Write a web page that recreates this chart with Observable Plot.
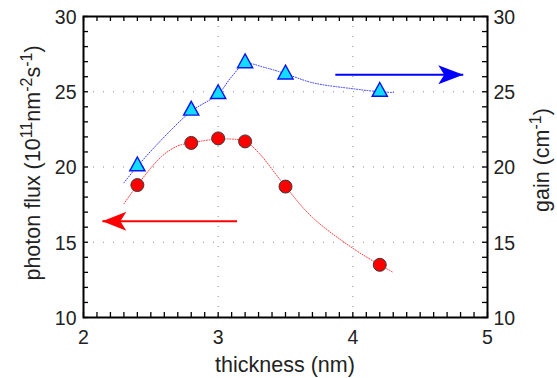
<!DOCTYPE html>
<html>
<head>
<meta charset="utf-8">
<script src="https://cdn.jsdelivr.net/npm/d3@7"></script>
<script src="https://cdn.jsdelivr.net/npm/@observablehq/plot@0.6"></script>
<style>
  html, body { margin: 0; padding: 0; background: #fff; }
  #chart svg { display: block; }
</style>
</head>
<body>
<div id="chart"></div>
<script>
// Measured samples: photon flux (left axis) and gain (right axis) vs. thickness
const thickness = [2.4, 2.8, 3.0, 3.2, 3.5, 4.2];
const photonFlux = [18.8, 21.6, 21.9, 21.7, 18.7, 13.5];
const gain = [20.2, 23.9, 25.0, 27.05, 26.3, 25.15];

// Guide-to-the-eye curves through the samples
const fluxFitX = [2.3, 2.4, 2.58, 2.7, 2.8, 3.0, 3.2, 3.3, 3.5, 3.7, 4.0, 4.2, 4.3];
const fluxFitY = [17.55, 18.8, 20.7, 21.4, 21.6, 21.85, 21.7, 20.95, 18.7, 16.65, 14.6, 13.5, 13.0];
const gainFitX = [2.3, 2.4, 2.6, 2.8, 3.0, 3.1, 3.2, 3.35, 3.5, 3.7, 4.0, 4.2, 4.3];
const gainFitY = [18.95, 20.05, 22.0, 23.7, 24.85, 26.0, 26.85, 26.6, 26.2, 25.6, 25.2, 25.0, 24.95];

// Arrows pointing each curve to its axis
const arrowY = [16.4, 26.13];
const arrowFrom = [3.14, 3.87];
const arrowTo = [2.14, 4.82];
const arrowColor = ["#ff0000", "#0000ff"];
const arrowDir = ["left", "right"];

// Axis ticks and labels
const xTicks = [2, 3, 4, 5];
const yTicks = [10, 15, 20, 25, 30];
const xGrid = [3, 4];
const yGrid = [15, 20, 25];
const xLabel = "thickness (nm)";

const W = 557, H = 378;
const mL = 83, mR = 70, mT = 16, mB = 61;
const frameW = W - mL - mR, frameH = H - mT - mB;
const FONT = "'Liberation Sans', Arial, Helvetica, sans-serif";

const xMinor = d3.range(20, 51).map(d => d / 10);
const yMinor = d3.range(10, 31);

const flux = thickness.map((t, i) => ({t, v: photonFlux[i]}));
const gn = thickness.map((t, i) => ({t, v: gain[i]}));
const fluxFit = fluxFitX.map((t, i) => ({t, v: fluxFitY[i]}));
const gainFit = gainFitX.map((t, i) => ({t, v: gainFitY[i]}));
const arrows = arrowY.map((y, i) => ({y, x1: arrowFrom[i], x2: arrowTo[i], c: arrowColor[i], dir: arrowDir[i]}));

// Filled arrowheads with a notched back, drawn with the tip at the origin
const headLeft = {draw(ctx) { ctx.moveTo(0, 0); ctx.lineTo(24, -9.5); ctx.lineTo(18, 0); ctx.lineTo(24, 9.5); ctx.closePath(); }};
const headRight = {draw(ctx) { ctx.moveTo(0, 0); ctx.lineTo(-25, -9.5); ctx.lineTo(-19, 0); ctx.lineTo(-25, 9.5); ctx.closePath(); }};
// Upward triangle marker centred on its bounding box
const tri = {draw(ctx) { ctx.moveTo(0, -7); ctx.lineTo(7.6, 6.8); ctx.lineTo(-7.6, 6.8); ctx.closePath(); }};

const gridStyle = {stroke: "#8a8a8a", strokeOpacity: 1, strokeWidth: 1, strokeDasharray: "1,9"};

const svg = Plot.plot({
  width: W, height: H,
  marginLeft: mL, marginRight: mR, marginTop: mT, marginBottom: mB,
  x: {domain: [2, 5], axis: null},
  y: {domain: [10, 30], axis: null},
  style: {fontFamily: FONT, background: "#fff", overflow: "visible"},
  marks: [
    Plot.ruleX(xGrid, {x: d => d, ...gridStyle}),
    Plot.ruleY(yGrid, {y: d => d, ...gridStyle}),
    Plot.line(fluxFit, {x: "t", y: "v", stroke: "#ff3b3b", strokeWidth: 1, strokeDasharray: "1,1.6", curve: "catmull-rom"}),
    Plot.line(gainFit, {x: "t", y: "v", stroke: "#3b3bff", strokeWidth: 1, strokeDasharray: "1,1.6", curve: "catmull-rom"}),
    Plot.dot(gn, {x: "t", y: "v", symbol: tri, r: 7, fill: "#12dcff", stroke: "#0a14f0", strokeWidth: 1.4}),
    Plot.dot(flux, {x: "t", y: "v", r: 6.5, fill: "#ff0000", stroke: "#3a3a3a", strokeWidth: 1}),
    Plot.link(arrows, {x1: "x1", x2: "x2", y1: "y", y2: "y", stroke: "c", strokeWidth: 2}),
    Plot.dot(arrows.filter(a => a.dir === "left"), {x: "x2", y: "y", symbol: headLeft, r: 10, fill: "c", stroke: "none"}),
    Plot.dot(arrows.filter(a => a.dir === "right"), {x: "x2", y: "y", symbol: headRight, r: 10, fill: "c", stroke: "none"}),
    // inward ticks on all four sides
    Plot.tickX(xMinor, {x: d => d, insetTop: frameH - 5, stroke: "#000", strokeWidth: 1.3}),
    Plot.tickX(xMinor, {x: d => d, insetBottom: frameH - 5, stroke: "#000", strokeWidth: 1.3}),
    Plot.tickY(yMinor, {y: d => d, insetRight: frameW - 5, stroke: "#000", strokeWidth: 1.3}),
    Plot.tickY(yMinor, {y: d => d, insetLeft: frameW - 5, stroke: "#000", strokeWidth: 1.3}),
    Plot.frame({stroke: "#000", strokeWidth: 2}),
    // tick labels
    Plot.text(xTicks, {x: d => d, y: 10, dy: 20, text: d => String(d), fontSize: 19.5, fill: "#222"}),
    Plot.text(yTicks, {x: 2, y: d => d, dx: -7, dy: 1, text: d => String(d), textAnchor: "end", fontSize: 19.5, fill: "#222"}),
    Plot.text(yTicks, {x: 5, y: d => d, dx: 6, dy: 1, text: d => String(d), textAnchor: "start", fontSize: 19.5, fill: "#222"})
  ]
});

// Axis titles with superscripts
const root = d3.select(svg);
function title(x, y, rotate, parts) {
  const t = root.append("text")
    .attr("transform", `translate(${x},${y})${rotate ? " rotate(-90)" : ""}`)
    .attr("text-anchor", "middle")
    .attr("font-family", FONT)
    .attr("font-size", 21.5)
    .attr("fill", "#222");
  let raised = false;
  for (const [s, sup] of parts) {
    const sp = t.append("tspan").text(s);
    if (sup && !raised) { sp.attr("dy", -8).attr("font-size", 16); raised = true; }
    else if (sup) { sp.attr("font-size", 16); }
    else if (raised) { sp.attr("dy", 8); raised = false; }
  }
}
title(mL + frameW / 2, 371.5, false, [[xLabel, false]]);
title(40, 163, true, [["photon flux (10", false], ["11", true], ["nm", false], ["-2", true], ["s", false], ["-1", true], [")", false]]);
title(549, 160, true, [["gain (cm", false], ["-1", true], [")", false]]);

document.getElementById("chart").appendChild(svg);
</script>
</body>
</html>
